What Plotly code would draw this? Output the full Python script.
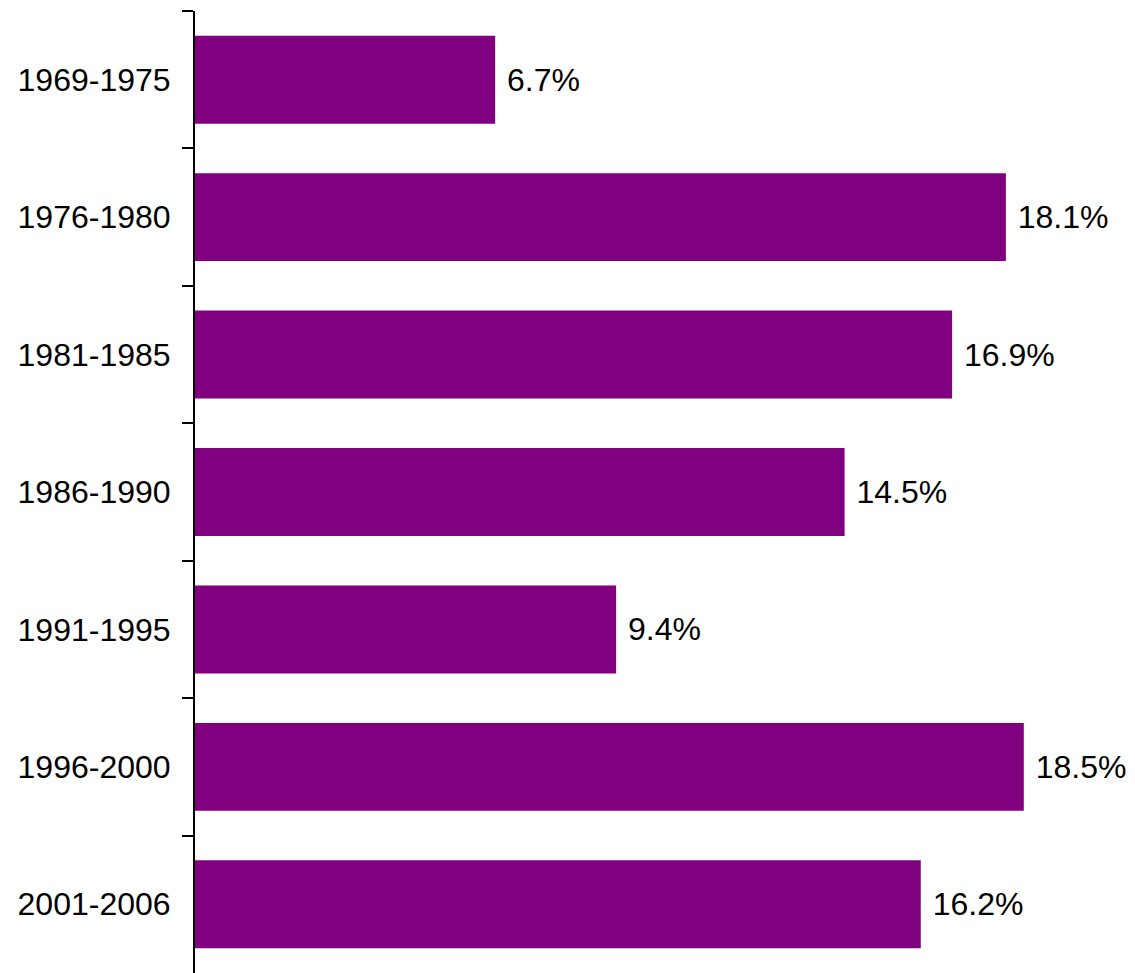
import plotly.graph_objects as go

periods = ["1969-1975", "1976-1980", "1981-1985", "1986-1990",
           "1991-1995", "1996-2000", "2001-2006"]
returns = [6.7, 18.1, 16.9, 14.5, 9.4, 18.5, 16.2]

fig = go.Figure()
fig.add_trace(
    go.Bar(
        x=returns,
        y=periods,
        orientation="h",
        marker=dict(color="#800080", line=dict(width=0)),
        # leading non-breaking space gives the gap between bar end and label
        text=["\u00a0" + f"{v:.1f}%" for v in returns],
        textposition="outside",
        textfont=dict(size=32, color="black", family="Liberation Sans, Arial"),
        constraintext="none",
        cliponaxis=False,
        showlegend=False,
    )
)

# page body has an 8px margin, so offsets are reduced accordingly
fig.update_layout(
    width=1135,
    height=973,
    margin=dict(l=187, r=52, t=3, b=8),
    paper_bgcolor="white",
    plot_bgcolor="white",
    bargap=0.36,
    font=dict(family="Liberation Sans, Arial", color="black"),
)
fig.update_xaxes(range=[0, 20], visible=False, automargin=False)
fig.update_yaxes(
    autorange="reversed",
    automargin=False,
    showline=True,
    linecolor="black",
    linewidth=2,
    ticks="outside",
    tickson="boundaries",
    ticklen=11,
    tickwidth=2,
    tickcolor="black",
    tickfont=dict(size=32, color="black"),
    showgrid=False,
    ticklabelstandoff=16,
)

fig.write_html("out.html")
